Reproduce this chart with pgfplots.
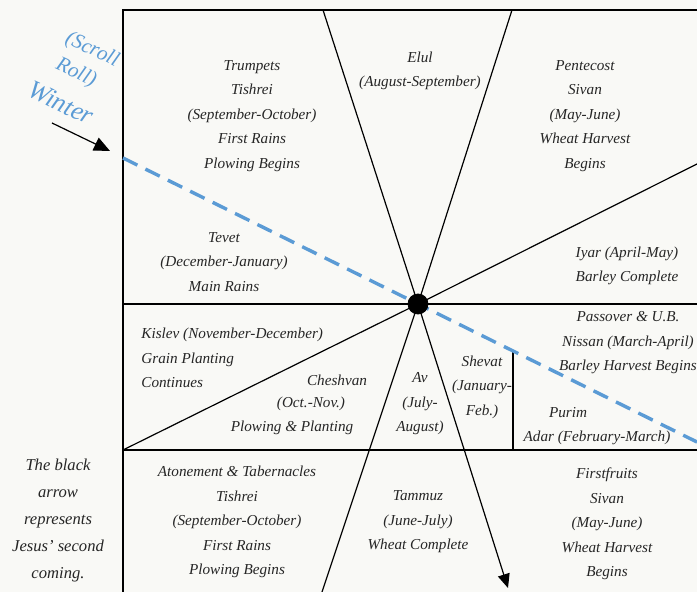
\documentclass[border=0pt]{standalone}
\usepackage{pgfplots}
\pgfplotsset{compat=1.18}
\usepackage{fontspec}
\setmainfont{Liberation Serif}
\usetikzlibrary{arrows.meta}
\definecolor{winterblue}{RGB}{91,155,213}
\definecolor{paper}{RGB}{249,249,246}

\tikzset{
  lbl/.style={font=\fontsize{7.6}{12.25}\selectfont\itshape, align=center, text=black!85, inner sep=0pt},
  side/.style={font=\fontsize{8.3}{13.5}\selectfont\itshape, align=center, text=black!85, inner sep=0pt},
  blue/.style={font=\fontsize{10.5}{12}\selectfont\itshape, text=winterblue, rotate=-25, inner sep=0pt},
}

\begin{document}
\begin{tikzpicture}
\begin{axis}[
  width=348.5pt, height=296pt, scale only axis,
  xmin=0, xmax=697, ymin=0, ymax=592, y dir=reverse,
  axis lines=none, clip=false,
  axis background/.style={fill=paper},
]
% frame
\addplot[black, line width=1pt] coordinates {(123,592) (123,10) (697,10)};
\addplot[black, line width=0.6pt] coordinates {(123,304) (697,304)};
\addplot[black, line width=0.6pt] coordinates {(123,450) (697,450)};
% rays from the centre
\addplot[black, line width=0.6pt] coordinates {(418,304) (323,10)};
\addplot[black, line width=0.6pt] coordinates {(418,304) (512,10)};
\addplot[black, line width=0.6pt] coordinates {(418,304) (697,164)};
\addplot[black, line width=0.6pt] coordinates {(418,304) (123,450)};
\addplot[black, line width=0.6pt] coordinates {(418,304) (322,592)};
\addplot[black, line width=0.6pt] coordinates {(513,352) (513,450)};
\addplot[black, line width=0.6pt, -{Triangle[length=7pt, width=6pt]}] coordinates {(418,304) (508,588)};
% winter line
\addplot[winterblue, line width=1.7pt, dash pattern=on 8pt off 4.5pt] coordinates {(123,158) (697,442)};
\addplot[black, mark=*, mark size=5pt, only marks] coordinates {(418,304)};
% small arrow
\addplot[black, line width=0.6pt, -{Triangle[length=8pt, width=7pt]}] coordinates {(52,123) (110,151)};

% labels
\node[lbl] at (axis cs:252,116) {Trumpets\\Tishrei\\(September-October)\\First Rains\\Plowing Begins};
\node[lbl] at (axis cs:420,71) {Elul\\(August-September)};
\node[lbl] at (axis cs:585,116) {Pentecost\\Sivan\\(May-June)\\Wheat Harvest\\Begins};
\node[lbl] at (axis cs:224,262) {Tevet\\(December-January)\\Main Rains};
\node[lbl] at (axis cs:627,266) {Iyar (April-May)\\Barley Complete};
\node[lbl, align=left, anchor=west] at (axis cs:141,358) {Kislev (November-December)\\Grain Planting\\Continues};
\node[lbl] at (axis cs:337,380) {Cheshvan};
\node[lbl] at (axis cs:311,404) {(Oct.-Nov.)};
\node[lbl] at (axis cs:292,428) {Plowing \& Planting};
\node[lbl] at (axis cs:420,404) {Av\\(July-\\August)};
\node[lbl] at (axis cs:482,387) {Shevat\\(January-\\Feb.)};
\node[lbl] at (axis cs:628,343) {Passover \& U.B.\\Nissan (March-April)\\Barley Harvest Begins};
\node[lbl] at (axis cs:568,413) {Purim};
\node[lbl] at (axis cs:597,438) {Adar (February-March)};
\node[lbl] at (axis cs:237,522) {Atonement \& Tabernacles\\Tishrei\\(September-October)\\First Rains\\Plowing Begins};
\node[lbl] at (axis cs:418,522) {Tammuz\\(June-July)\\Wheat Complete};
\node[lbl] at (axis cs:607,524) {Firstfruits\\Sivan\\(May-June)\\Wheat Harvest\\Begins};
\node[side] at (axis cs:58,521) {The black\\arrow\\represents\\Jesus' second\\coming.};
% blue rotated words
\node[blue] at (axis cs:92,50) {(Scroll};
\node[blue] at (axis cs:76,73) {Roll)};
\node[blue, font=\fontsize{13}{14}\selectfont\itshape] at (axis cs:61,103) {Winter};

\coordinate (A) at (axis cs:0,0);
\coordinate (B) at (axis cs:697,592);
\end{axis}
\pgfresetboundingbox
\useasboundingbox (A) rectangle (B);
\end{tikzpicture}
\end{document}
